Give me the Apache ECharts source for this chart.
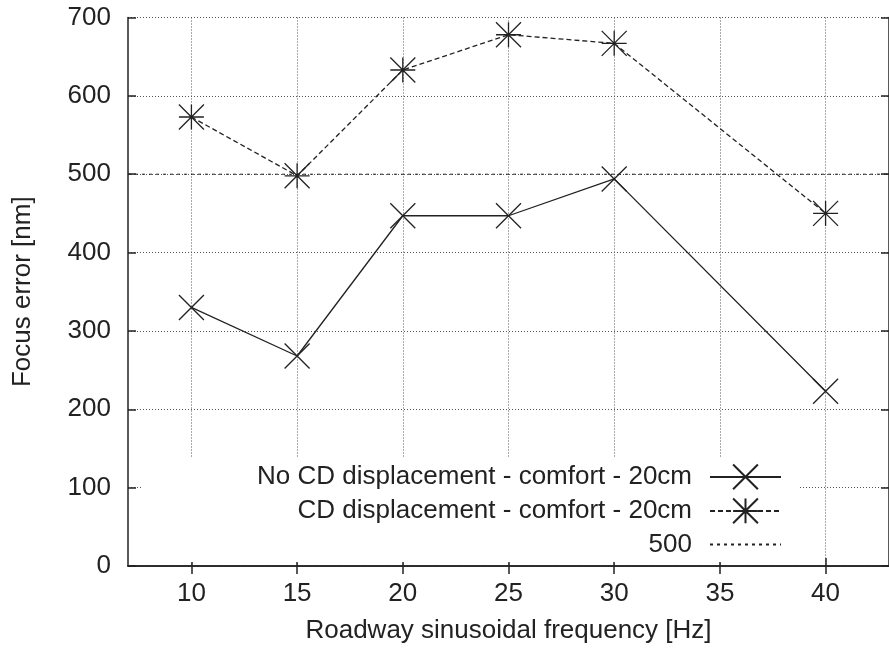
<!DOCTYPE html>
<html><head><meta charset="utf-8">
<script src="https://cdn.jsdelivr.net/npm/echarts@6/dist/echarts.min.js"></script>
<style>html,body{margin:0;padding:0;background:#fff}#c{width:889px;height:649px}</style>
</head><body><div id="c"></div>
<script>
// ---- data ----
const frequencies = [10, 15, 20, 25, 30, 40];
const noCdDisplacement = [330, 268, 447, 447, 494, 223];
const cdDisplacement = [573, 498, 633, 678, 667, 450];
const referenceLevel = 500;
const xTicks = [10, 15, 20, 25, 30, 35, 40];
const xRange = [7, 43];
const yRange = [0, 700];
const yStep = 100;
const seriesNames = ['No CD displacement - comfort - 20cm', 'CD displacement - comfort - 20cm', '500'];
const xName = 'Roadway sinusoidal frequency [Hz]';
const yName = 'Focus error [nm]';

// ---- styling ----
const FONT = 'Liberation Sans';
const INK = '#222';
const FS = 26;
const crossSym = 'path://M0,0L24,24M24,0L0,24';
const starSym = 'path://M0,12L24,12M12,0L12,24M0,0L24,24M24,0L0,24';

const chart = echarts.init(document.getElementById('c'), null, {renderer: 'canvas'});

const gridLine = {show: true, lineStyle: {color: '#555', width: 1, type: [1, 2]}};
const axisLineStyle = {show: true, lineStyle: {color: INK, width: 1.5}};
const tickStyle = {show: true, inside: true, length: 8, lineStyle: {color: INK, width: 1.5}};

const option = {
  animation: false,
  backgroundColor: '#fff',
  grid: {left: 128, top: 17.5, bottom: 77, right: -5, containLabel: false},
  xAxis: [{
    type: 'value', min: xRange[0], max: xRange[1], position: 'bottom',
    name: xName, nameLocation: 'middle', nameGap: 52,
    nameTextStyle: {fontFamily: FONT, fontSize: FS, color: INK},
    axisLine: axisLineStyle,
    axisTick: Object.assign({customValues: xTicks}, tickStyle),
    axisLabel: {customValues: xTicks, margin: 15, fontFamily: FONT, fontSize: FS, color: INK},
    splitLine: gridLine
  }, {
    type: 'value', min: xRange[0], max: xRange[1], position: 'top',
    axisLine: axisLineStyle,
    axisTick: Object.assign({customValues: xTicks}, tickStyle),
    axisLabel: {show: false, customValues: xTicks},
    splitLine: {show: false}
  }],
  yAxis: [{
    type: 'value', min: yRange[0], max: yRange[1], interval: yStep, position: 'left',
    name: yName, nameLocation: 'middle', nameGap: 92,
    nameTextStyle: {fontFamily: FONT, fontSize: FS, color: INK},
    axisLine: axisLineStyle, axisTick: tickStyle,
    axisLabel: {margin: 17, fontFamily: FONT, fontSize: FS, color: INK},
    splitLine: gridLine
  }, {
    type: 'value', min: yRange[0], max: yRange[1], interval: yStep, position: 'right',
    axisLine: axisLineStyle, axisTick: tickStyle,
    axisLabel: {show: false}, splitLine: {show: false}
  }],
  legend: seriesNames.map((n, i) => ({
    data: [n], orient: 'vertical', right: 107, top: 463.5 + i * 34,
    align: 'right', padding: 0, itemWidth: 71, itemHeight: 31, selectedMode: false,
    textStyle: {fontFamily: FONT, fontSize: FS, color: INK, padding: [0, 13, 0, 0]}
  })),
  graphic: [{
    type: 'rect', z: 3, silent: true,
    shape: {x: 142, y: 458, width: 656, height: 104},
    style: {fill: '#fff'}
  }],
  series: [{
    name: seriesNames[0], type: 'line',
    data: frequencies.map((f, i) => [f, noCdDisplacement[i]]),
    symbol: crossSym, symbolSize: 25, showAllSymbol: true,
    lineStyle: {color: INK, width: 1.3, type: 'solid'},
    itemStyle: {color: INK, borderColor: INK, borderWidth: 1.3}
  }, {
    name: seriesNames[1], type: 'line',
    data: frequencies.map((f, i) => [f, cdDisplacement[i]]),
    symbol: starSym, symbolSize: 25, showAllSymbol: true,
    lineStyle: {color: INK, width: 1.3, type: [5, 3]},
    itemStyle: {color: INK, borderColor: INK, borderWidth: 1.3}
  }, {
    name: seriesNames[2], type: 'line',
    data: xRange.map(x => [x, referenceLevel]),
    symbol: 'none',
    lineStyle: {color: INK, width: 1, type: [3, 4]},
    itemStyle: {color: 'rgba(0,0,0,0)', borderWidth: 0, opacity: 0}
  }]
};
chart.setOption(option);
</script></body></html>
